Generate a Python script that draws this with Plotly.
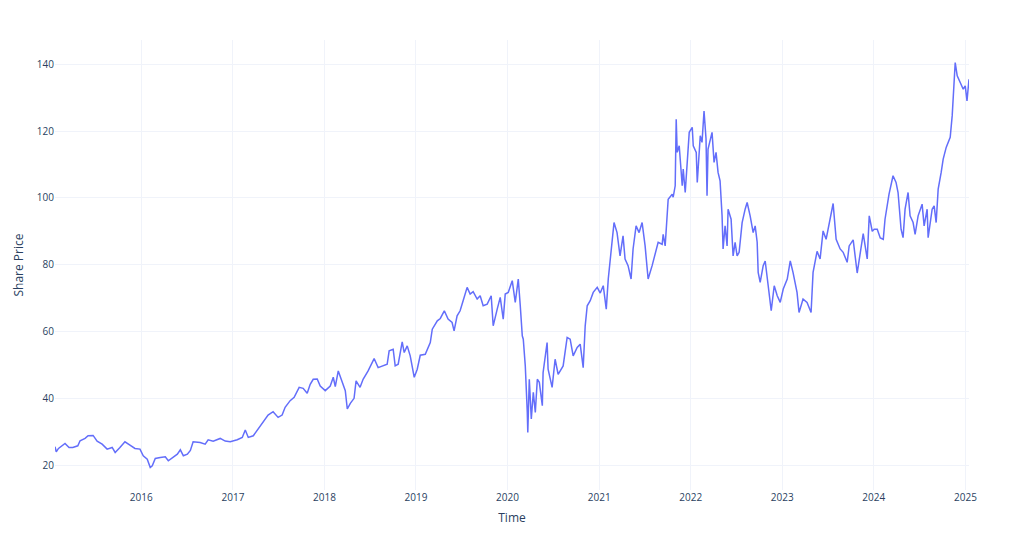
import plotly.graph_objects as go

dates = [
    "2015-01-22", "2015-01-27", "2015-02-05", "2015-02-19", "2015-03-03", "2015-03-19", "2015-04-03",
    "2015-04-23", "2015-05-02", "2015-05-22", "2015-06-03", "2015-06-23", "2015-07-09", "2015-07-29",
    "2015-08-18", "2015-09-07", "2015-09-19", "2015-10-08", "2015-10-28", "2015-11-17", "2015-12-07",
    "2015-12-27",
    "2016-01-09", "2016-01-25", "2016-02-06", "2016-02-14", "2016-02-26", "2016-03-17", "2016-04-06",
    "2016-04-18", "2016-05-08", "2016-05-24", "2016-06-05", "2016-06-17", "2016-07-03", "2016-07-15",
    "2016-07-26", "2016-08-23", "2016-09-12", "2016-09-24", "2016-10-14", "2016-11-11", "2016-12-01",
    "2016-12-21",
    "2017-01-18", "2017-02-07", "2017-02-19", "2017-03-03", "2017-03-23", "2017-04-12", "2017-05-01",
    "2017-05-21", "2017-06-10", "2017-06-30", "2017-07-16", "2017-07-28", "2017-08-17", "2017-09-02",
    "2017-09-22", "2017-10-08", "2017-10-24", "2017-11-05", "2017-11-17", "2017-12-03", "2017-12-15",
    "2018-01-04", "2018-01-24", "2018-02-05", "2018-02-13", "2018-02-25", "2018-03-13", "2018-03-25",
    "2018-04-02", "2018-04-14", "2018-04-29", "2018-05-07", "2018-05-23", "2018-06-04", "2018-06-24",
    "2018-07-10", "2018-07-18", "2018-08-03", "2018-08-23", "2018-09-08", "2018-09-16", "2018-10-02",
    "2018-10-10", "2018-10-22", "2018-11-07", "2018-11-15", "2018-11-27", "2018-12-09", "2018-12-25",
    "2019-01-06", "2019-01-18", "2019-02-07", "2019-02-27", "2019-03-07", "2019-03-27", "2019-04-08",
    "2019-04-24", "2019-05-09", "2019-05-25", "2019-06-02", "2019-06-14", "2019-06-26", "2019-07-08",
    "2019-07-24", "2019-08-05", "2019-08-17", "2019-09-02", "2019-09-14", "2019-09-26", "2019-10-12",
    "2019-10-28", "2019-11-05", "2019-11-21", "2019-12-03", "2019-12-15", "2019-12-23",
    "2020-01-04", "2020-01-20", "2020-02-01", "2020-02-13", "2020-02-21", "2020-02-29", "2020-03-04",
    "2020-03-12", "2020-03-20", "2020-03-22", "2020-03-28", "2020-04-05", "2020-04-13", "2020-04-21",
    "2020-04-29", "2020-05-07", "2020-05-19", "2020-05-22", "2020-06-07", "2020-06-11", "2020-06-27",
    "2020-07-09", "2020-07-21", "2020-08-10", "2020-08-26", "2020-09-07", "2020-09-19", "2020-10-05",
    "2020-10-17", "2020-10-29", "2020-11-06", "2020-11-14", "2020-11-26", "2020-12-08", "2020-12-24",
    "2021-01-05", "2021-01-17", "2021-01-29", "2021-02-06", "2021-02-18", "2021-03-01", "2021-03-13",
    "2021-03-25", "2021-04-06", "2021-04-14", "2021-04-26", "2021-05-08", "2021-05-16", "2021-05-28",
    "2021-06-09", "2021-06-21", "2021-07-03", "2021-07-15", "2021-07-31", "2021-08-12", "2021-08-24",
    "2021-09-09", "2021-09-13", "2021-09-21", "2021-09-29", "2021-10-03", "2021-10-19", "2021-10-23",
    "2021-10-31", "2021-11-04", "2021-11-08", "2021-11-16", "2021-11-28", "2021-12-02", "2021-12-10",
    "2021-12-18", "2021-12-26",
    "2022-01-07", "2022-01-11", "2022-01-23", "2022-01-27", "2022-02-08", "2022-02-15", "2022-02-23",
    "2022-03-03", "2022-03-07", "2022-03-11", "2022-03-27", "2022-04-04", "2022-04-12", "2022-04-20",
    "2022-04-28", "2022-05-06", "2022-05-10", "2022-05-18", "2022-05-26", "2022-05-30", "2022-06-11",
    "2022-06-19", "2022-06-27", "2022-07-05", "2022-07-13", "2022-07-25", "2022-08-06", "2022-08-14",
    "2022-08-26", "2022-09-07", "2022-09-15", "2022-09-23", "2022-09-27", "2022-10-05", "2022-10-17",
    "2022-10-25", "2022-11-06", "2022-11-18", "2022-11-30", "2022-12-12", "2022-12-24",
    "2023-01-05", "2023-01-21", "2023-02-02", "2023-02-13", "2023-02-21", "2023-03-01", "2023-03-09",
    "2023-03-25", "2023-04-10", "2023-04-26", "2023-05-04", "2023-05-20", "2023-06-01", "2023-06-13",
    "2023-06-25", "2023-07-07", "2023-07-23", "2023-08-04", "2023-08-20", "2023-09-01", "2023-09-17",
    "2023-09-25", "2023-10-11", "2023-10-27", "2023-11-12", "2023-11-20", "2023-12-06", "2023-12-14",
    "2023-12-26",
    "2024-01-03", "2024-01-15", "2024-01-27", "2024-02-08", "2024-02-15", "2024-03-02", "2024-03-18",
    "2024-03-30", "2024-04-07", "2024-04-19", "2024-04-27", "2024-05-05", "2024-05-17", "2024-05-25",
    "2024-06-06", "2024-06-14", "2024-06-26", "2024-07-12", "2024-07-20", "2024-08-01", "2024-08-05",
    "2024-08-21", "2024-08-29", "2024-09-06", "2024-09-14", "2024-09-26", "2024-10-04", "2024-10-16",
    "2024-11-01", "2024-11-09", "2024-11-13", "2024-11-21", "2024-11-29", "2024-12-11", "2024-12-23",
    "2024-12-31", "2025-01-07", "2025-01-15",
]

share_price = [
    25.5, 24.0, 25.0, 25.8, 26.5, 25.3, 25.3,
    25.8, 27.3, 28.0, 28.8, 28.9, 27.2, 26.3,
    24.8, 25.3, 23.8, 25.3, 27.0, 26.0, 25.0,
    24.8,
    22.8, 21.8, 19.3, 19.8, 22.0, 22.3, 22.5,
    21.3, 22.3, 23.3, 24.6, 22.8, 23.3, 24.4,
    27.0, 26.8, 26.3, 27.6, 27.2, 28.0, 27.2,
    27.0,
    27.6, 28.3, 30.5, 28.3, 28.8, 30.8, 33.0,
    35.0, 36.0, 34.3, 35.0, 37.3, 39.3, 40.3,
    43.3, 43.0, 41.5, 44.2, 45.7, 45.8, 43.7,
    42.3, 43.7, 46.3, 43.5, 48.2, 44.8, 42.3,
    36.8, 38.5, 40.0, 45.2, 43.3, 45.7, 48.2,
    50.7, 51.9, 49.2, 49.7, 50.2, 54.2, 54.7,
    49.7, 50.2, 56.9, 53.7, 55.7, 52.7, 46.3,
    48.7, 52.9, 53.2, 56.7, 60.7, 63.2, 63.9,
    66.2, 63.7, 62.7, 60.2, 64.7, 66.2, 69.2,
    73.2, 71.2, 71.9, 69.7, 70.7, 67.7, 68.2,
    70.7, 61.7, 66.7, 70.2, 63.7, 71.2,
    71.7, 75.2, 68.7, 75.7, 67.7, 58.7, 57.7,
    49.7, 35.8, 29.8, 45.7, 33.8, 41.8, 35.8,
    45.7, 44.8, 37.8, 47.7, 56.7, 48.7, 43.3,
    51.7, 47.2, 49.7, 58.2, 57.7, 52.7, 55.2,
    56.2, 49.2, 61.7, 67.7, 69.2, 71.7, 73.2,
    71.5, 73.7, 66.7, 75.7, 84.7, 92.6, 89.6,
    82.6, 88.6, 81.7, 79.7, 75.7, 84.7, 91.6,
    89.6, 92.6, 85.6, 75.7, 79.7, 83.7, 86.7,
    86.1, 89.1, 85.6, 93.6, 99.6, 101.1, 100.2,
    103.6, 123.5, 113.6, 115.6, 103.6, 108.6, 101.6,
    109.6, 119.6,
    121.1, 115.6, 113.6, 104.6, 118.6, 116.6, 126.0,
    117.6, 100.6, 114.6, 119.6, 110.6, 113.6, 107.6,
    105.1, 94.6, 84.7, 91.6, 85.6, 96.6, 93.6,
    82.6, 86.7, 82.6, 83.7, 92.6, 96.6, 98.6,
    94.6, 89.6, 91.6, 86.7, 77.7, 74.7, 79.7,
    81.1, 73.7, 66.2, 73.7, 70.7, 68.7,
    72.7, 75.7, 81.1, 77.7, 74.7, 71.7, 65.7,
    69.7, 68.7, 65.7, 77.7, 84.0, 81.7, 90.1,
    87.6, 92.6, 98.3, 87.6, 84.7, 83.7, 80.7,
    85.6, 87.4, 77.5, 86.0, 89.3, 81.7, 94.6,
    90.0,
    90.6, 90.6, 88.0, 87.6, 93.6, 101.1, 106.6,
    104.6, 101.6, 90.6, 88.1, 96.6, 101.6, 94.6,
    92.6, 89.1, 94.6, 98.1, 91.6, 96.6, 88.1,
    96.6, 97.6, 92.6, 102.6, 107.6, 111.6, 115.1,
    118.1, 124.6, 129.5, 140.5, 136.5, 134.5, 132.5,
    133.5, 129.0, 135.5,
]

fig = go.Figure()
fig.add_trace(go.Scatter(
    x=dates,
    y=share_price,
    mode="lines",
    line=dict(color="#636efa", width=1.5),
    name="Share Price",
))

fig.update_layout(
    template="plotly_white",
    width=1024,
    height=546,
    margin=dict(l=55, r=55, t=40, b=56),
    showlegend=False,
    font=dict(family="Open Sans, sans-serif", size=10, color="#2a3f5f"),
    xaxis=dict(
        title=dict(text="Time", font=dict(size=12), standoff=10),
        dtick="M12",
        tickformat="%Y",
        gridcolor="#F0F3FA",
        automargin=False,
    ),
    yaxis=dict(
        title=dict(text="Share Price", font=dict(size=12), standoff=10),
        tickvals=[20, 40, 60, 80, 100, 120, 140],
        gridcolor="#F0F3FA",
        automargin=False,
    ),
)

fig.write_html("out.html")
